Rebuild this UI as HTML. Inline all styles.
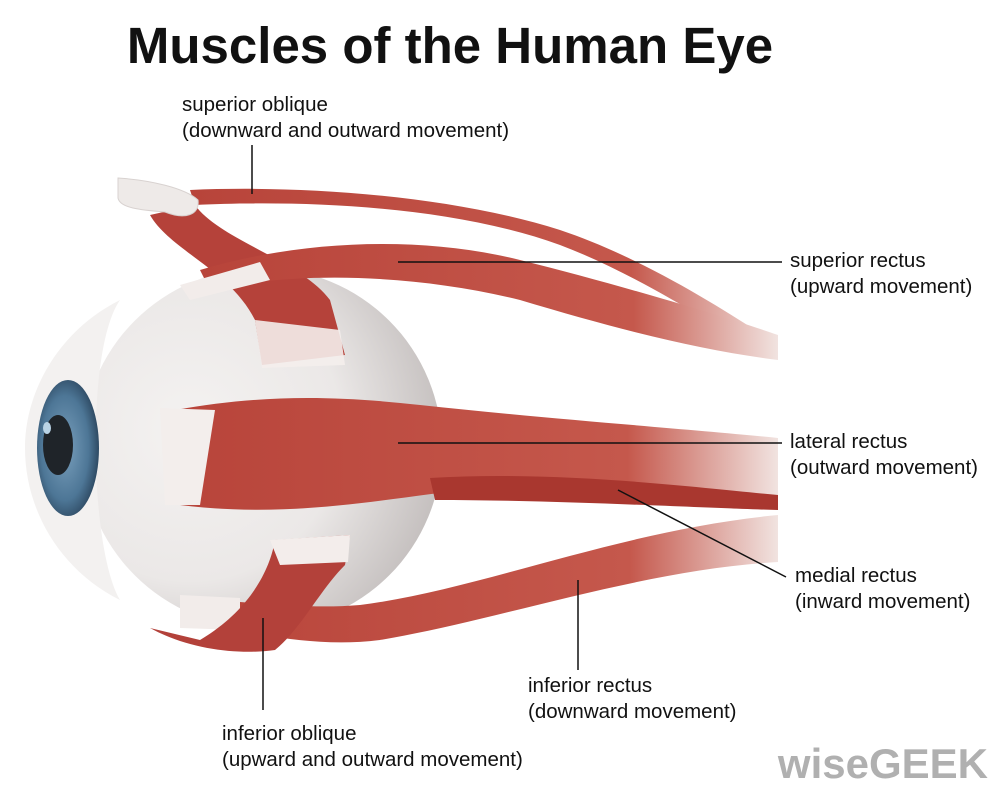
<!DOCTYPE html>
<html><head><meta charset="utf-8"><style>
html,body{margin:0;padding:0;background:#fff;}
svg{display:block}
</style></head><body>
<svg width="1000" height="790" viewBox="0 0 1000 790" xmlns="http://www.w3.org/2000/svg">
<defs>
<radialGradient id="ball" cx="0.3" cy="0.45" r="0.7">
<stop offset="0" stop-color="#f4f2f1"/><stop offset="0.6" stop-color="#ebe8e7"/><stop offset="1" stop-color="#c6c1c0"/>
</radialGradient>
<radialGradient id="iris" cx="0.45" cy="0.5" r="0.55">
<stop offset="0" stop-color="#7aa0bd"/><stop offset="0.7" stop-color="#4d7696"/><stop offset="1" stop-color="#2e4a63"/>
</radialGradient>
<linearGradient id="fadeR" x1="0" x2="1"><stop offset="0" stop-color="#b8443a"/><stop offset="0.75" stop-color="#c5584c"/><stop offset="1" stop-color="#f1e3e0"/></linearGradient>
</defs>
<text x="450" y="63" text-anchor="middle" font-family="Liberation Sans, sans-serif" font-weight="bold" font-size="51" fill="#111">Muscles of the Human Eye</text>

<path d="M190,190 C300,185 450,195 560,230 C650,260 740,320 778,345 L772,357 C720,330 640,275 560,245 C450,205 300,200 195,205 Z" fill="url(#fadeR)"/>
<circle cx="262" cy="448" r="180" fill="url(#ball)"/>
<path d="M120,300 C60,330 25,390 25,448 C25,510 60,570 120,600 C90,550 85,350 120,300 Z" fill="#f3f1f0"/>
<ellipse cx="68" cy="448" rx="31" ry="68" fill="url(#iris)"/>
<ellipse cx="58" cy="445" rx="15" ry="30" fill="#1f2429"/>
<ellipse cx="47" cy="428" rx="4" ry="6" fill="#b9d3e5"/>
<path d="M150,215 C170,250 230,270 255,320 L262,365 L345,355 L330,300 C300,260 220,240 195,205 Z" fill="#b5423a"/>
<path d="M255,320 L262,368 L345,365 L340,330 Z" fill="#f4eeec" opacity="0.9"/>
<path d="M118,178 C150,180 185,188 198,200 C200,215 185,220 165,212 C140,210 120,208 118,198 Z" fill="#eeeae8" stroke="#d8d2d0"/>
<path d="M200,270 C300,240 420,235 520,260 C620,285 720,315 778,335 L778,360 C700,350 620,330 520,300 C420,275 300,270 210,290 Z" fill="url(#fadeR)"/>
<path d="M180,285 L260,262 L270,280 L190,300 Z" fill="#f2ecea"/>
<path d="M175,410 C260,395 330,395 420,405 C560,420 700,430 778,438 L778,500 C700,495 560,490 470,490 C400,495 300,520 180,505 Z" fill="url(#fadeR)"/>
<path d="M160,408 L215,410 L200,505 L165,505 Z" fill="#f3eeec"/>
<path d="M430,478 C560,470 700,488 778,495 L778,510 C700,508 560,500 435,500 Z" fill="#a9372f"/>
<path d="M185,600 C250,600 300,610 360,605 C480,590 620,530 778,515 L778,562 C640,570 500,620 380,640 C300,650 240,625 185,628 Z" fill="url(#fadeR)"/>
<path d="M180,595 L240,598 L240,630 L180,628 Z" fill="#f2ecea"/>
<path d="M150,628 C190,650 240,655 275,650 C300,630 320,590 345,565 L350,535 L275,540 C270,570 250,610 200,640 Z" fill="#b3413a"/>
<path d="M270,540 L280,565 L348,562 L350,535 Z" fill="#f3edeb"/>

<g stroke="#111" stroke-width="1.5" fill="none">
<line x1="252" y1="145" x2="252" y2="194"/>
<line x1="398" y1="262" x2="782" y2="262"/>
<line x1="398" y1="443" x2="782" y2="443"/>
<line x1="618" y1="490" x2="786" y2="577"/>
<line x1="578" y1="580" x2="578" y2="670"/>
<line x1="263" y1="618" x2="263" y2="710"/>
</g>
<g font-family="Liberation Sans, sans-serif" font-size="20.5" fill="#111">
<text x="182" y="111">superior oblique</text>
<text x="182" y="137">(downward and outward movement)</text>
<text x="790" y="267">superior rectus</text>
<text x="790" y="293">(upward movement)</text>
<text x="790" y="448">lateral rectus</text>
<text x="790" y="474">(outward movement)</text>
<text x="795" y="582">medial rectus</text>
<text x="795" y="608">(inward movement)</text>
<text x="528" y="692">inferior rectus</text>
<text x="528" y="718">(downward movement)</text>
<text x="222" y="740">inferior oblique</text>
<text x="222" y="766">(upward and outward movement)</text>
</g>
<text x="988" y="778" text-anchor="end" font-family="Liberation Sans, sans-serif" font-weight="bold" font-size="42" fill="#b0b0b0">wiseGEEK</text>
</svg>
</body></html>
